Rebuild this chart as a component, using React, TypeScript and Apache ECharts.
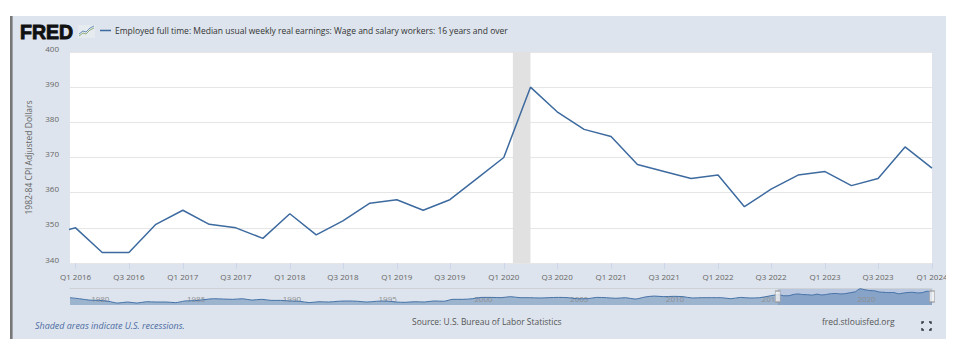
import React, { useEffect, useRef } from "react";
import * as echarts from "echarts";

const seriesName = "Employed full time: Median usual weekly real earnings: Wage and salary workers: 16 years and over";
const yAxisName = "1982-84 CPI Adjusted Dollars";
const quarters = [
  "Q4 2015", "Q1 2016", "Q2 2016", "Q3 2016", "Q4 2016", "Q1 2017", "Q2 2017", "Q3 2017", "Q4 2017",
  "Q1 2018", "Q2 2018", "Q3 2018", "Q4 2018", "Q1 2019", "Q2 2019", "Q3 2019", "Q4 2019",
  "Q1 2020", "Q2 2020", "Q3 2020", "Q4 2020", "Q1 2021", "Q2 2021", "Q3 2021", "Q4 2021",
  "Q1 2022", "Q2 2022", "Q3 2022", "Q4 2022", "Q1 2023", "Q2 2023", "Q3 2023", "Q4 2023", "Q1 2024",
];
const earnings = [
  348, 350, 343, 343, 351, 355, 351, 350, 347,
  354, 348, 352, 357, 358, 355, 358, 364,
  370, 390, 383, 378, 376, 368, 366, 364,
  365, 356, 361, 365, 366, 362, 364, 373, 367,
];
const tickQuarters = [
  "Q1 2016", "Q3 2016", "Q1 2017", "Q3 2017", "Q1 2018", "Q3 2018", "Q1 2019", "Q3 2019", "Q1 2020",
  "Q3 2020", "Q1 2021", "Q3 2021", "Q1 2022", "Q3 2022", "Q1 2023", "Q3 2023", "Q1 2024",
];
const yTicks = { min: 340, max: 400, interval: 10 };
const viewStart = "2015-12-13";
const viewEnd = "2024-01-01";
const recession = ["2020-02-01", "2020-04-01"];

// Navigator: half-yearly history, 1979.0 to 2015.5
const navHistoryStart = 1979;
const navHistory = [
  330, 323, 314, 312, 306, 294, 301, 294, 303, 301, 301, 297, 308, 310, 317, 323, 321, 319, 323, 314, 319, 312, 312,
  308, 306, 297, 303, 301, 306, 308, 306, 301, 306, 308, 301, 299, 303, 301, 308, 306, 319, 319, 323, 332, 332, 330,
  337, 330, 330, 328, 330, 332, 330, 323, 323, 332, 330, 326, 330, 321, 334, 341, 337, 339, 337, 328, 330, 330, 330,
  323, 332, 328, 330, 341,
];
const navYears = [1980, 1985, 1990, 1995, 2000, 2005, 2010, 2015, 2020];
const navRangeEnds = [viewStart, viewEnd];

const q2t = (q: string) => {
  const [a, y] = q.split(" ");
  return Date.UTC(+y, (+a[1] - 1) * 3, 1);
};
const t2q = (t: number) => {
  const d = new Date(t);
  return `Q${Math.floor(d.getUTCMonth() / 3) + 1} ${d.getUTCFullYear()}`;
};

const mainData = quarters.map((q, i) => [q2t(q), earnings[i]]);
const navData = [
  ...navHistory.map((v, i) => [
    Date.UTC(navHistoryStart + Math.floor(i / 2), i % 2 ? 6 : 0, 1),
    v,
  ]),
  ...mainData.slice(1),
];

const FONT = "'Open Sans', sans-serif";

export default function App() {
  const ref = useRef<HTMLDivElement>(null);
  useEffect(() => {
    document.body.style.margin = "0";
    const chart = echarts.init(ref.current!, null, { renderer: "svg" });
    chart.setOption({
      animation: false,
      backgroundColor: "#ffffff",
      textStyle: { fontFamily: FONT },
      legend: {
        data: [{ name: seriesName, icon: "rect", itemStyle: { color: "#3d6a9f" } }],
        left: 100,
        top: 26,
        itemWidth: 11,
        itemHeight: 1.5,
        itemGap: 3,
        padding: 0,
        textStyle: { fontFamily: FONT, fontSize: 8.5, color: "#333333", padding: [0, 0, 0, -1] },
      },
      grid: [
        { left: 70, right: 28, top: 52, height: 211, show: true, backgroundColor: "#ffffff", borderWidth: 0 },
        { left: 70, right: 28, top: 288, height: 17, show: false },
      ],
      xAxis: [
        {
          type: "value",
          gridIndex: 0,
          min: Date.parse(viewStart),
          max: Date.parse(viewEnd),
          axisLine: { show: false },
          splitLine: { show: false },
          axisTick: { show: true, length: 6, lineStyle: { color: "#ccd6eb" }, customValues: tickQuarters.map(q2t) },
          axisLabel: {
            customValues: tickQuarters.map(q2t),
            formatter: (v: number) => t2q(v),
            color: "#666666",
            fontFamily: FONT,
            fontSize: 8,
            margin: 9,
            hideOverlap: false,
          },
        },
        {
          type: "value",
          gridIndex: 1,
          position: "top",
          z: 3,
          min: Date.UTC(navHistoryStart, 0, 1),
          max: Date.parse(viewEnd),
          axisLine: { show: true, onZero: false, lineStyle: { color: "#cfd2d5", width: 1 } },
          splitLine: { show: false },
          axisTick: { show: false },
          axisLabel: {
            inside: true,
            customValues: navYears.map((y) => Date.UTC(y, 0, 1)),
            formatter: (v: number) => String(new Date(v).getUTCFullYear()),
            color: "#8f8f8f",
            fontFamily: FONT,
            fontSize: 8,
            margin: 6,
            align: "left",
            padding: [0, 0, 0, 2],
            hideOverlap: false,
          },
        },
      ],
      yAxis: [
        {
          type: "value",
          gridIndex: 0,
          min: yTicks.min,
          max: yTicks.max,
          interval: yTicks.interval,
          name: yAxisName,
          nameLocation: "middle",
          nameGap: 37,
          nameTextStyle: { color: "#666666", fontFamily: FONT, fontSize: 8.5 },
          axisLine: { show: false },
          axisTick: { show: false },
          splitLine: { show: true, lineStyle: { color: "#e6e6e6", width: 1 } },
          axisLabel: { color: "#666666", fontFamily: FONT, fontSize: 8, margin: 11, verticalAlign: "bottom" },
        },
        {
          type: "value",
          gridIndex: 1,
          min: 281,
          max: 395,
          axisLine: { show: false },
          axisTick: { show: false },
          splitLine: { show: false },
          axisLabel: { show: false },
        },
      ],
      series: [
        {
          name: seriesName,
          type: "line",
          xAxisIndex: 0,
          yAxisIndex: 0,
          data: mainData,
          showSymbol: false,
          symbol: "none",
          clip: true,
          lineStyle: { color: "#3d6a9f", width: 1.5 },
          itemStyle: { color: "#3d6a9f" },
          markArea: {
            silent: true,
            itemStyle: { color: "#e1e1e1" },
            data: [[{ xAxis: Date.parse(recession[0]) }, { xAxis: Date.parse(recession[1]) }]],
          },
        },
        {
          name: "navigator",
          type: "line",
          xAxisIndex: 1,
          yAxisIndex: 1,
          data: navData,
          showSymbol: false,
          symbol: "none",
          smooth: 0.3,
          lineStyle: { color: "#4572A7", width: 1 },
          areaStyle: { color: "rgba(69,114,167,0.6)", origin: "start" },
          markArea: {
            silent: true,
            itemStyle: { color: "rgba(102,133,194,0.3)" },
            data: [[{ xAxis: Date.parse(viewStart) }, { xAxis: Date.parse(viewEnd) }]],
          },
        },
        {
          name: "navHandles",
          type: "scatter",
          xAxisIndex: 1,
          yAxisIndex: 1,
          z: 6,
          clip: false,
          silent: true,
          symbol: "rect",
          symbolSize: [5, 11],
          itemStyle: { color: "#f2f2f2", borderColor: "#999999", borderWidth: 1 },
          data: navRangeEnds.map((d) => [Date.parse(d), 338]),
        },
      ],
      graphic: [
        { type: "rect", z: -1, shape: { x: 12, y: 16, width: 934, height: 323 }, style: { fill: "#dde4ed" } },
        { type: "rect", z: -1, shape: { x: 10, y: 16, width: 2.6, height: 323 }, style: { fill: "#777777" } },
        { type: "rect", z: 100, shape: { x: 946, y: 262, width: 14, height: 30 }, style: { fill: "#ffffff" } },
        {
          type: "text", x: 20, y: 21.5,
          style: { text: "FRED", fontFamily: "'Liberation Sans'", fontWeight: "bold", fontSize: 19.5, fill: "#111111", stroke: "#111111", lineWidth: 0.9 },
        },
        { type: "rect", shape: { x: 78, y: 25, width: 17, height: 13 }, style: { fill: "#e6ebf0" } },
        { type: "polyline", shape: { points: [[79, 36], [83, 33], [86, 34], [90, 30], [94, 28]] }, style: { stroke: "#8fb07c", fill: "none", lineWidth: 1 } },
        { type: "polyline", shape: { points: [[79, 34], [83, 31], [86, 32], [90, 28], [94, 26]] }, style: { stroke: "#6c8fb8", fill: "none", lineWidth: 1 } },
        {
          type: "text", x: 35, y: 320.5,
          style: { text: "Shaded areas indicate U.S. recessions.", fontFamily: FONT, fontStyle: "italic", fontSize: 8.95, fill: "#4c6ba3" },
        },
        {
          type: "text", x: 412, y: 317,
          style: { text: "Source: U.S. Bureau of Labor Statistics", fontFamily: FONT, fontSize: 8.45, fill: "#555555" },
        },
        {
          type: "text", x: 822, y: 317,
          style: { text: "fred.stlouisfed.org", fontFamily: FONT, fontSize: 8.5, fill: "#555555" },
        },
        ...[
          [[922, 324], [922, 322], [924, 322]],
          [[929, 322], [931, 322], [931, 324]],
          [[922, 328], [922, 330], [924, 330]],
          [[929, 330], [931, 330], [931, 328]],
        ].map((points) => ({ type: "polyline", shape: { points }, style: { stroke: "#2b3440", fill: "none", lineWidth: 1.4 } })),
      ],
    });
    return () => chart.dispose();
  }, []);
  return <div ref={ref} style={{ position: "absolute", left: 0, top: 0, width: 960, height: 352 }} />;
}
